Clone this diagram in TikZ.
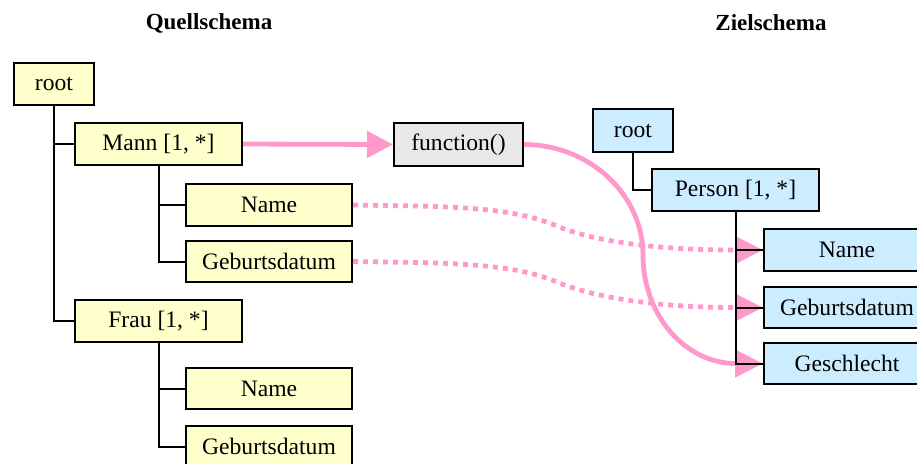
\documentclass[tikz,border=0pt]{standalone}
\usepackage{fontspec}
\setmainfont{Liberation Serif}
\usetikzlibrary{arrows.meta}
\definecolor{boxyellow}{RGB}{255,255,204}
\definecolor{boxblue}{RGB}{204,236,255}
\definecolor{mappink}{RGB}{255,153,204}
\definecolor{funcgray}{RGB}{232,232,232}
\tikzset{
  srcbox/.style={draw=black, line width=1pt, fill=boxyellow, inner sep=0pt,
    font=\fontsize{11.8}{13}\selectfont},
  tgtbox/.style={draw=black, line width=1pt, fill=boxblue, inner sep=0pt,
    font=\fontsize{11.8}{13}\selectfont},
  funcbox/.style={draw=black, line width=1pt, fill=funcgray, inner sep=0pt,
    font=\fontsize{11.8}{13}\selectfont},
  treeline/.style={draw=black, line width=1pt},
  maparrow/.style={draw=mappink, line width=2.4pt},
  mapdots/.style={draw=mappink, line width=2.4pt, dash pattern=on 2.5pt off 2.5pt},
  bigtip/.style={-{Triangle[length=14pt,width=13.5pt]}},
  title/.style={font=\fontsize{11.5}{13}\selectfont\bfseries},
}
\begin{document}
\begin{tikzpicture}[x=0.5pt,y=-0.5pt]
\clip (0,0) rectangle (917,463);
\fill[white] (0,0) rectangle (917,463);

% titles
\node[title] (t1) at (209,23) {Quellschema};
\node[title] (t2) at (771,23) {Zielschema};

% source tree
\node[srcbox, minimum width=40pt, minimum height=21pt] (lroot) at (54,84) {root};
\node[srcbox, minimum width=83.5pt, minimum height=21pt] (mann) at (158.5,144) {Mann [1, *]};
\node[srcbox, minimum width=83pt, minimum height=21pt] (name1) at (269,205) {Name};
\node[srcbox, minimum width=83pt, minimum height=20.5pt] (geb1) at (269,261.5) {Geburtsdatum};
\node[srcbox, minimum width=83.5pt, minimum height=21pt] (frau) at (158.5,321) {Frau [1, *]};
\node[srcbox, minimum width=83pt, minimum height=20.5pt] (name2) at (269,388.5) {Name};
\node[srcbox, minimum width=83pt, minimum height=20.5pt] (geb2) at (269,446.5) {Geburtsdatum};

% function
\node[funcbox, minimum width=64.5pt, minimum height=21.5pt] (func) at (458.5,144.5) {function()};

% target tree
\node[tgtbox, minimum width=40pt, minimum height=21.5pt] (rroot) at (633,130.5) {root};
\node[tgtbox, minimum width=83.5pt, minimum height=21pt] (person) at (735.5,190) {Person [1, *]};
\node[tgtbox, minimum width=83pt, minimum height=21pt] (rname) at (847,250) {Name};
\node[tgtbox, minimum width=83pt, minimum height=20.5pt] (rgeb) at (847,307.5) {Geburtsdatum};
\node[tgtbox, minimum width=83pt, minimum height=20.5pt] (rgesch) at (847,363.5) {Geschlecht};

% mapping connectors
\coordinate (c1) at (736,250);
\coordinate (c2) at (736,307.5);
\coordinate (c3) at (736,363.5);
\draw[maparrow, -{Triangle[length=13pt,width=13pt]}] (mann.east) -- (func.west);
\draw[mapdots, bigtip] (name1.east) -- (420,206)
  .. controls (500,208) and (530,215) .. (557,226)
  .. controls (590,240) and (650,250) .. (c1) -- (rname.west);
\draw[mapdots, bigtip] (geb1.east) -- (420,262.5)
  .. controls (500,264.5) and (530,271) .. (557,282)
  .. controls (590,296) and (650,307.5) .. (c2) -- (rgeb.west);
\draw[maparrow, bigtip] (func.east)
  .. controls (589,144.5) and (643,194) .. (643,255)
  .. controls (643,315) and (685,363.5) .. (c3) -- (rgesch.west);

% tree lines
\draw[treeline] (lroot.south) |- (mann.west);
\draw[treeline] (lroot.south) |- (frau.west);
\draw[treeline] (mann.south) |- (name1.west);
\draw[treeline] (mann.south) |- (geb1.west);
\draw[treeline] (frau.south) |- (name2.west);
\draw[treeline] (frau.south) |- (geb2.west);
\draw[treeline] (rroot.south) |- (person.west);
\draw[treeline] (person.south) |- (rname.west);
\draw[treeline] (person.south) |- (rgeb.west);
\draw[treeline] (person.south) |- (rgesch.west);
\end{tikzpicture}
\end{document}
